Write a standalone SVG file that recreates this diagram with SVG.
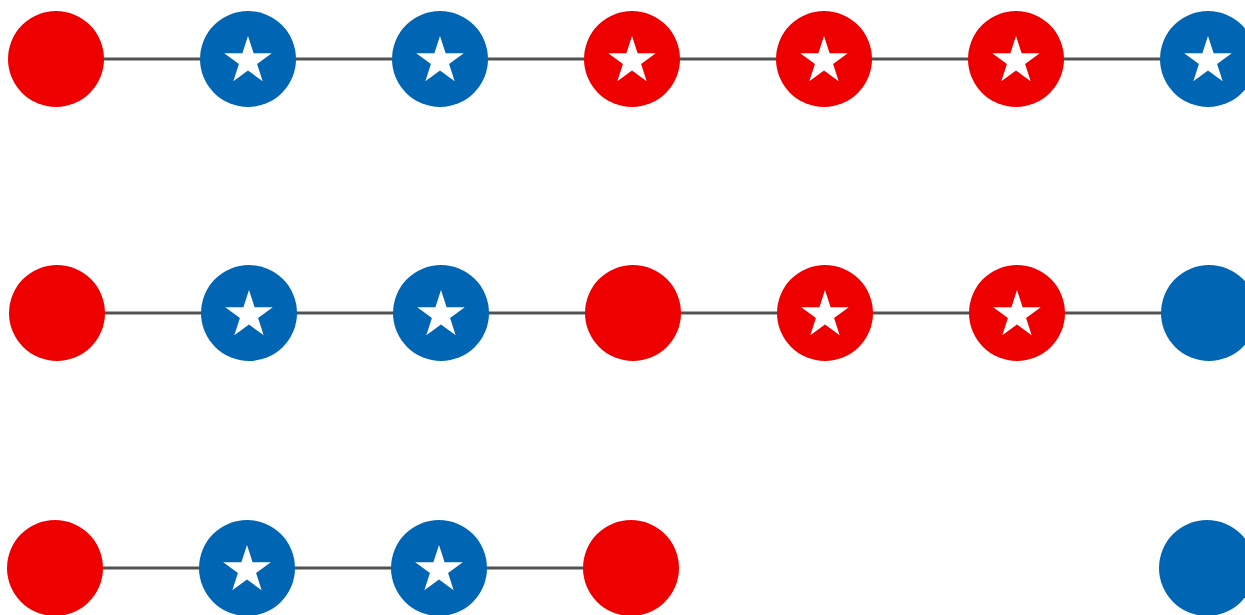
<svg xmlns="http://www.w3.org/2000/svg" xmlns:xlink="http://www.w3.org/1999/xlink" width="1245" height="615" viewBox="0 0 1245 615">
<style>
.edge{stroke:#525252;stroke-width:3;fill:none}
.red{fill:#ee0000}
.blue{fill:#0066b3}
.star{fill:#ffffff}
</style>
<defs>
<path id="star" d="M0,-25 L5.61,-7.73 L23.78,-7.73 L9.08,2.95 L14.69,20.23 L0,9.55 L-14.69,20.23 L-9.08,2.95 L-23.78,-7.73 L-5.61,-7.73 Z"/>
</defs>
<rect width="1245" height="615" fill="#ffffff"/>
<g id="connectors">
<line class="edge" x1="56" y1="59" x2="1208" y2="59"/>
<line class="edge" x1="57" y1="313" x2="1209" y2="313"/>
<line class="edge" x1="55" y1="568" x2="631" y2="568"/>
</g>
<g id="r1n1"><circle class="red" cx="56" cy="59" r="48"/></g>
<g id="r1n2"><circle class="blue" cx="248" cy="59" r="48"/><use class="star" href="#star" x="248" y="61"/></g>
<g id="r1n3"><circle class="blue" cx="440" cy="59" r="48"/><use class="star" href="#star" x="440" y="61"/></g>
<g id="r1n4"><circle class="red" cx="632" cy="59" r="48"/><use class="star" href="#star" x="632" y="61"/></g>
<g id="r1n5"><circle class="red" cx="824" cy="59" r="48"/><use class="star" href="#star" x="824" y="61"/></g>
<g id="r1n6"><circle class="red" cx="1016" cy="59" r="48"/><use class="star" href="#star" x="1016" y="61"/></g>
<g id="r1n7"><circle class="blue" cx="1208" cy="59" r="48"/><use class="star" href="#star" x="1208" y="61"/></g>
<g id="r2n1"><circle class="red" cx="57" cy="313" r="48"/></g>
<g id="r2n2"><circle class="blue" cx="249" cy="313" r="48"/><use class="star" href="#star" x="249" y="315"/></g>
<g id="r2n3"><circle class="blue" cx="441" cy="313" r="48"/><use class="star" href="#star" x="441" y="315"/></g>
<g id="r2n4"><circle class="red" cx="633" cy="313" r="48"/></g>
<g id="r2n5"><circle class="red" cx="825" cy="313" r="48"/><use class="star" href="#star" x="825" y="315"/></g>
<g id="r2n6"><circle class="red" cx="1017" cy="313" r="48"/><use class="star" href="#star" x="1017" y="315"/></g>
<g id="r2n7"><circle class="blue" cx="1209" cy="313" r="48"/></g>
<g id="r3n1"><circle class="red" cx="55" cy="568" r="48"/></g>
<g id="r3n2"><circle class="blue" cx="247" cy="568" r="48"/><use class="star" href="#star" x="247" y="570"/></g>
<g id="r3n3"><circle class="blue" cx="439" cy="568" r="48"/><use class="star" href="#star" x="439" y="570"/></g>
<g id="r3n4"><circle class="red" cx="631" cy="568" r="48"/></g>
<g id="r3n5"><circle class="blue" cx="1207" cy="568" r="48"/></g>
</svg>
